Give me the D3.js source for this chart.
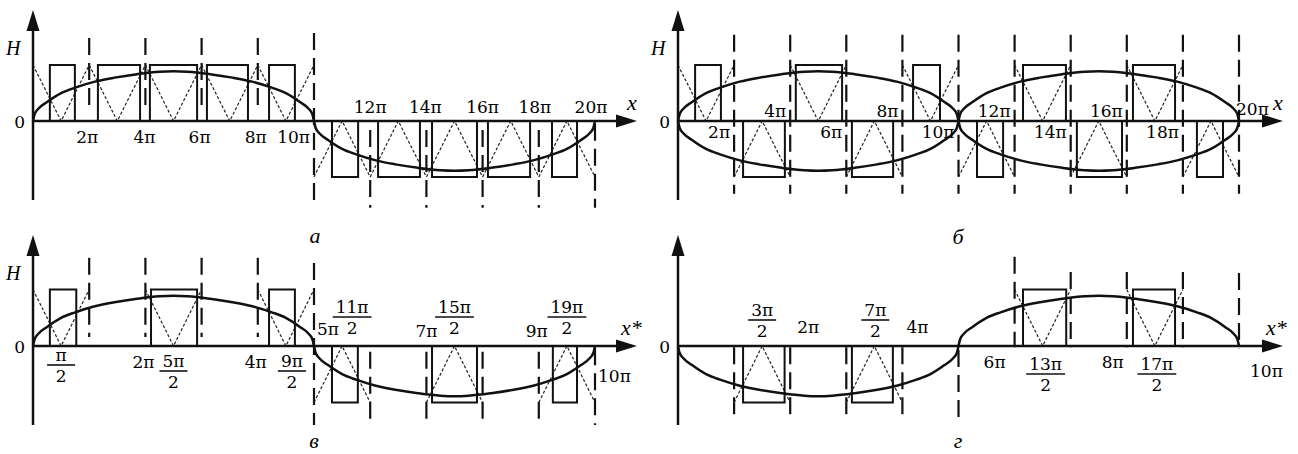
<!DOCTYPE html>
<html><head><meta charset="utf-8">
<script src="https://cdn.jsdelivr.net/npm/d3@7"></script>
<style>body{margin:0;background:#fff}svg{display:block}</style>
</head><body>
<svg id="c" width="1298" height="454"></svg>
<script>
// ---------- DATA (x in units of π, y in units of pulse height) ----------
// normalized shape of one half-wave of the modulating curve (t: 0..1 across hump, v: 0..1)
const humpShape = [[0,0],[0.006,0.14],[0.02,0.25],[0.05,0.38],[0.1,0.56],[0.15,0.67],[0.22,0.79],[0.29,0.87],[0.37,0.94],[0.45,0.99],[0.5,1],[0.55,0.99],[0.63,0.94],[0.71,0.87],[0.78,0.79],[0.85,0.67],[0.9,0.56],[0.95,0.38],[0.98,0.25],[0.994,0.14],[1,0]];
const curvePeak = 0.89;

// humps: [start, end, sign]
const humpsA = [[0,10,1],[10,20,-1]];
const humpsB = [[0,10,1],[0,10,-1],[10,20,1],[10,20,-1]];
const humpsV = [[0,5,1],[5,10,-1]];
const humpsG = [[0,5,-1],[5,10,1]];

// rectangular pulses: [start, end, sign]
const rectsA = [[0.60,1.49,1],[2.31,3.81,1],[4.16,5.84,1],[6.19,7.65,1],[8.40,9.32,1],[10.64,11.57,-1],[12.28,13.77,-1],[14.2,15.8,-1],[16.19,17.69,-1],[18.47,19.36,-1]];
const rectsB = [[0.61,1.53,1],[2.32,3.81,-1],[4.2,5.85,1],[6.2,7.67,-1],[8.38,9.34,1],[10.66,11.59,-1],[12.3,13.83,1],[14.22,15.83,-1],[16.22,17.72,1],[18.5,19.43,-1]];
const rectsV = [[0.30,0.77,1],[2.1,2.92,1],[4.2,4.66,1],[5.32,5.78,-1],[7.1,7.9,-1],[9.25,9.68,-1]];
const rectsG = [[1.16,1.9,-1],[3.1,3.83,-1],[6.15,6.92,1],[8.11,8.86,1]];

// triangular carrier periods: [start, end, sign]
const carrierA = [[0,2,1],[2,4,1],[4,6,1],[6,8,1],[8,10,1],[10,12,-1],[12,14,-1],[14,16,-1],[16,18,-1],[18,20,-1]];
const carrierB = [[0,2,1],[2,4,-1],[4,6,1],[6,8,-1],[8,10,1],[10,12,-1],[12,14,1],[14,16,-1],[16,18,1],[18,20,-1]];
const carrierV = [[0,1,1],[2,3,1],[4,5,1],[5,6,-1],[7,8,-1],[9,10,-1]];
const carrierG = [[1,2,-1],[3,4,-1],[6,7,1],[8,9,1]];

// dashed guide lines: [x, top, bottom]
const guidesA = [[2,1.48,0.16],[4,1.48,0.16],[6,1.48,0.16],[8,1.48,0.16],[10,1.57,-1.55],[12,-0.16,-1.55],[14,-0.16,-1.55],[16,-0.16,-1.55],[18,-0.16,-1.55],[20,-0.05,-1.55]];
const guidesB = [[2,1.54,-1.3],[4,1.54,-1.3],[6,1.54,-1.3],[8,1.54,-1.3],[10,1.54,-1.3],[12,1.54,-1.3],[14,1.54,-1.3],[16,1.54,-1.3],[18,1.54,-1.3],[20,1.54,-1.3]];
const guidesV = [[1,1.56,0.16],[2,1.56,0.16],[3,1.56,0.16],[4,1.56,0.16],[5,1.47,-1.4],[6,-0.1,-1.4],[7,-0.1,-1.4],[8,-0.1,-1.4],[9,-0.1,-1.4],[10,-0.04,-1.4]];
const guidesG = [[1,-0.02,-1.27],[2,-0.02,-1.27],[3,-0.02,-1.27],[4,-0.02,-1.27],[5,-0.07,-1.4],[6,1.58,-0.02],[7,1.31,-0.02],[8,1.31,-0.02],[9,1.31,-0.02],[10,1.29,-0.04]];

// tick labels: [value, text] or [value, numerator, denominator]
const ticksA = [[2,"2π"],[4,"4π"],[6,"6π"],[8,"8π"],[10,"10π"],[12,"12π"],[14,"14π"],[16,"16π"],[18,"18π"],[20,"20π"]];
const ticksB = [[2,"2π"],[4,"4π"],[6,"6π"],[8,"8π"],[10,"10π"],[12,"12π"],[14,"14π"],[16,"16π"],[18,"18π"],[20,"20π"]];
const ticksV = [[0.5,"π","2"],[2,"2π"],[2.5,"5π","2"],[4,"4π"],[4.5,"9π","2"],[5,"5π"],[5.5,"11π","2"],[7,"7π"],[7.5,"15π","2"],[9,"9π"],[9.5,"19π","2"],[10,"10π"]];
const ticksG = [[1.5,"3π","2"],[2,"2π"],[3.5,"7π","2"],[4,"4π"],[6,"6π"],[6.5,"13π","2"],[8,"8π"],[8.5,"17π","2"],[10,"10π"]];

const panelLetters = ["а","б","в","г"];
const axisTitlesX = ["x","x","x*","x*"];

// ---------- LAYOUT ----------
const svg = d3.select("#c");
const NUM_FONT = "'DejaVu Serif', serif";
const IT_FONT = "'Liberation Serif', 'DejaVu Serif', serif";
const FS = 17;

const place = {
  a: [
    {dx:-2,a:"middle",y:143},{dx:-1,a:"middle",y:143},{dx:-2,a:"middle",y:143},{dx:-2,a:"middle",y:143},{dx:-4,a:"end",y:143},
    {dx:0,a:"middle",y:113},{dx:-1,a:"middle",y:113},{dx:0,a:"middle",y:113},{dx:-4,a:"middle",y:113},{dx:-4,a:"middle",y:113}
  ],
  b: [
    {dx:-4,a:"end",y:138},{dx:-4,a:"end",y:117},{dx:-4,a:"end",y:138},{dx:-4,a:"end",y:117},{dx:-4,a:"end",y:138},
    {dx:-4,a:"end",y:117},{dx:-4,a:"end",y:138},{dx:-4,a:"end",y:117},{dx:-4,a:"end",y:138},{dx:-3,a:"start",y:115}
  ],
  v: [
    {dx:0,line:365},{dx:-2,a:"middle",y:368},{dx:0,line:371},{dx:-2,a:"middle",y:368},{dx:6,line:371},
    {dx:3,a:"start",y:335},{dx:10,line:317},{dx:0,a:"middle",y:337},{dx:0,line:317},{dx:-2,a:"middle",y:337},{dx:0,line:317},{dx:3,a:"start",y:382}
  ],
  g: [
    {dx:0,line:320},{dx:18,a:"middle",y:333},{dx:1,line:320},{dx:15,a:"middle",y:333},
    {dx:-20,a:"middle",y:368},{dx:3,line:374},{dx:-14,a:"middle",y:368},{dx:2,line:374},{dx:11,a:"start",y:377}
  ]
};

const panels = [
  {key:"a", x0:33, x1:595, dmax:20, base:121, unit:56, yTop:10, yBot:200, arrowX:637, humps:humpsA, rects:rectsA, carrier:carrierA, guides:guidesA, ticks:ticksA, H:true,
   title:{x:627,y:110}, letter:{x:315,y:243}},
  {key:"b", x0:678, x1:1239, dmax:20, base:121, unit:56, yTop:10, yBot:200, arrowX:1283, humps:humpsB, rects:rectsB, carrier:carrierB, guides:guidesB, ticks:ticksB, H:true,
   title:{x:1273,y:110}, letter:{x:958,y:244}},
  {key:"v", x0:33, x1:595, dmax:10, base:346, unit:56.5, yTop:235, yBot:425, arrowX:637, humps:humpsV, rects:rectsV, carrier:carrierV, guides:guidesV, ticks:ticksV, H:true,
   title:{x:621,y:335}, letter:{x:314,y:448}},
  {key:"g", x0:678, x1:1239, dmax:10, base:346, unit:56.5, yTop:235, yBot:425, arrowX:1283, humps:humpsG, rects:rectsG, carrier:carrierG, guides:guidesG, ticks:ticksG, H:false,
   title:{x:1266,y:335}, letter:{x:958,y:448}}
];

panels.forEach((p, pi) => {
  const x = d3.scaleLinear().domain([0, p.dmax]).range([p.x0, p.x1]);
  const y = d3.scaleLinear().domain([-1, 1]).range([p.base + p.unit, p.base - p.unit]);
  const g = svg.append("g");

  g.selectAll("line.guide").data(p.guides).join("line")
    .attr("x1", d => x(d[0])).attr("x2", d => x(d[0]))
    .attr("y1", d => y(d[1])).attr("y2", d => y(d[2]))
    .attr("stroke", "#111").attr("stroke-width", 2.2)
    .attr("stroke-dasharray", "17,8");

  g.selectAll("path.carrier").data(p.carrier).join("path")
    .attr("d", d => d3.line()([[x(d[0]), y(d[2])], [x((d[0]+d[1])/2), y(0)], [x(d[1]), y(d[2])]]))
    .attr("fill", "none").attr("stroke", "#222").attr("stroke-width", 1.2)
    .attr("stroke-dasharray", "3,2");

  g.selectAll("rect.pulse").data(p.rects).join("rect")
    .attr("x", d => x(d[0])).attr("width", d => x(d[1]) - x(d[0]))
    .attr("y", d => Math.min(y(d[2]), y(0))).attr("height", d => Math.abs(y(d[2]) - y(0)))
    .attr("fill", "none").attr("stroke", "#111").attr("stroke-width", 2);

  const line = d3.line().curve(d3.curveMonotoneX);
  g.selectAll("path.curve").data(p.humps).join("path")
    .attr("d", d => line(humpShape.map(([t, v]) => [x(d[0] + t*(d[1]-d[0])), y(d[2]*curvePeak*v)])))
    .attr("fill", "none").attr("stroke", "#111").attr("stroke-width", 2.5);

  g.append("line").attr("x1", p.x0).attr("x2", p.arrowX - 18).attr("y1", p.base).attr("y2", p.base)
    .attr("stroke", "#111").attr("stroke-width", 2.5);
  g.append("path").attr("d", `M${p.arrowX-21},${p.base-6.5}L${p.arrowX},${p.base}L${p.arrowX-21},${p.base+6.5}Z`).attr("fill", "#111");
  g.append("line").attr("x1", p.x0).attr("x2", p.x0).attr("y1", p.yTop + 18).attr("y2", p.yBot)
    .attr("stroke", "#111").attr("stroke-width", 2.5);
  g.append("path").attr("d", `M${p.x0-6.5},${p.yTop+21}L${p.x0},${p.yTop}L${p.x0+6.5},${p.yTop+21}Z`).attr("fill", "#111");

  g.append("text").attr("x", p.x0 - 8).attr("y", p.base + 7).attr("text-anchor", "end")
    .attr("font-family", NUM_FONT).attr("font-size", FS).text("0");
  if (p.H) g.append("text").attr("x", p.x0 - 27).attr("y", p.yTop + 45)
    .attr("font-family", IT_FONT).attr("font-style", "italic").attr("font-size", 20).text("H");
  g.append("text").attr("x", p.title.x).attr("y", p.title.y)
    .attr("font-family", IT_FONT).attr("font-style", "italic").attr("font-size", 22).text(axisTitlesX[pi]);
  g.append("text").attr("x", p.letter.x).attr("y", p.letter.y).attr("text-anchor", "middle")
    .attr("font-family", IT_FONT).attr("font-style", "italic").attr("font-size", 22).text(panelLetters[pi]);

  p.ticks.forEach((tk, i) => {
    const pl = place[p.key][i];
    const cx = x(tk[0]) + pl.dx;
    if (tk.length === 2) {
      g.append("text").attr("x", cx).attr("y", pl.y).attr("text-anchor", pl.a)
        .attr("font-family", NUM_FONT).attr("font-size", FS).text(tk[1]);
    } else {
      const num = g.append("text").attr("x", cx).attr("y", pl.line - 4).attr("text-anchor", "middle")
        .attr("font-family", NUM_FONT).attr("font-size", FS).text(tk[1]);
      const w = Math.max(28, num.node().getComputedTextLength() + 6);
      g.append("line").attr("x1", cx - w/2).attr("x2", cx + w/2).attr("y1", pl.line).attr("y2", pl.line)
        .attr("stroke", "#111").attr("stroke-width", 1.6);
      g.append("text").attr("x", cx).attr("y", pl.line + 17).attr("text-anchor", "middle")
        .attr("font-family", NUM_FONT).attr("font-size", FS).text(tk[2]);
    }
  });
});
</script>
</body></html>
